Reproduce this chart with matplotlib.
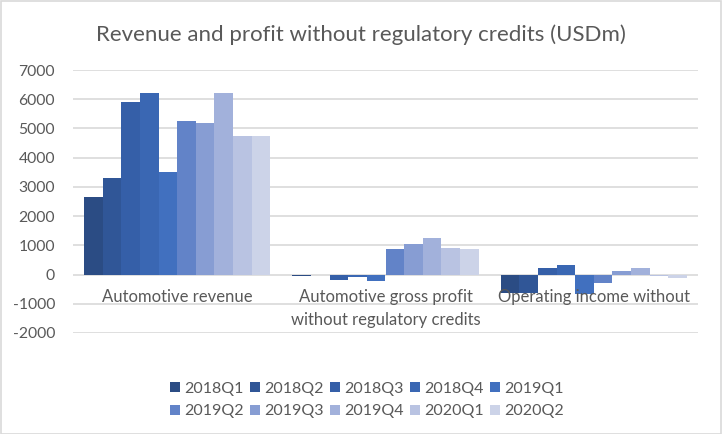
import matplotlib
matplotlib.use("Agg")
import matplotlib.pyplot as plt
from matplotlib.patches import Patch, Rectangle
import numpy as np

plt.rcParams['font.family'] = ['Lato', 'DejaVu Sans']

categories = ["Automotive revenue",
              "Automotive gross profit\nwithout regulatory credits",
              "Operating income without"]
series = ["2018Q1", "2018Q2", "2018Q3", "2018Q4", "2019Q1",
          "2019Q2", "2019Q3", "2019Q4", "2020Q1", "2020Q2"]
values = {
    "2018Q1": [2650, -65, -620],
    "2018Q2": [3290, -10, -620],
    "2018Q3": [5910, -180, 220],
    "2018Q4": [6220, -100, 320],
    "2019Q1": [3495, -210, -650],
    "2019Q2": [5265, 890, -280],
    "2019Q3": [5200, 1060, 110],
    "2019Q4": [6220, 1260, 220],
    "2020Q1": [4755, 920, -60],
    "2020Q2": [4755, 860, -110],
}
colors = ["#2B4C84", "#305697", "#355FA8", "#3A67B3", "#4170BF",
          "#6283C8", "#879DD3", "#A2B1DB", "#B9C3E2", "#CCD3E8"]
yticks = [-2000, -1000, 0, 1000, 2000, 3000, 4000, 5000, 6000, 7000]
title = "Revenue and profit without regulatory credits (USDm)"

txt = "#595959"
grid = "#D9D9D9"

fig = plt.figure(figsize=(7.22, 4.34), dpi=100)
fig.patches.append(Rectangle((0.5 / 722, 0.5 / 434), 1 - 1.5 / 722, 1 - 1.5 / 434,
                             transform=fig.transFigure, fill=False,
                             edgecolor=grid, linewidth=1.2))
ax = fig.add_axes([73 / 722, 1 - 333 / 434, (698 - 73) / 722, (333 - 70) / 434])

n = len(series)
group_w = 186 / 208.3
bw = group_w / n
x = np.arange(len(categories))
for i, s in enumerate(series):
    offs = -group_w / 2 + bw * (i + 0.5)
    ax.bar(x + offs, values[s], width=bw, color=colors[i], label=s, zorder=3,
           linewidth=0)

ax.set_xlim(-0.5, len(categories) - 0.5)
ax.set_ylim(yticks[0], yticks[-1])
ax.set_yticks(yticks)
ax.set_yticklabels([str(t) for t in yticks])
ax.tick_params(axis='y', length=0, pad=13, labelsize=11.3, labelcolor=txt)
ax.set_xticks([])
for t in yticks:
    ax.axhline(t, color=grid, linewidth=1.2, zorder=1)
for sp in ax.spines.values():
    sp.set_visible(False)

for xi, c in zip(x, categories):
    ax.annotate(c, xy=(xi, 0), xycoords='data', xytext=(0, -10.5),
                textcoords='offset points', ha='center', va='top',
                fontsize=12, color=txt, linespacing=1.55, zorder=5)

fig.text(361 / 722, 1 - 35 / 434, title, ha='center', va='center',
         fontsize=16, color=txt)

# legend filled row by row (matplotlib fills column-major)
ncol = 5
nrow = 2
order = [r * ncol + c for c in range(ncol) for r in range(nrow)]
handles = [Patch(facecolor=colors[i], edgecolor='none') for i in order]
labels = [series[i] for i in order]
fig.legend(handles, labels, loc='center', ncol=ncol,
           bbox_to_anchor=(367 / 722, 1 - 400 / 434), frameon=False,
           fontsize=11.5, labelcolor=txt, handlelength=0.62, handleheight=0.62,
           handletextpad=0.25, columnspacing=0.4, labelspacing=0.55,
           borderpad=0)

fig.savefig("out.png", dpi=100)
